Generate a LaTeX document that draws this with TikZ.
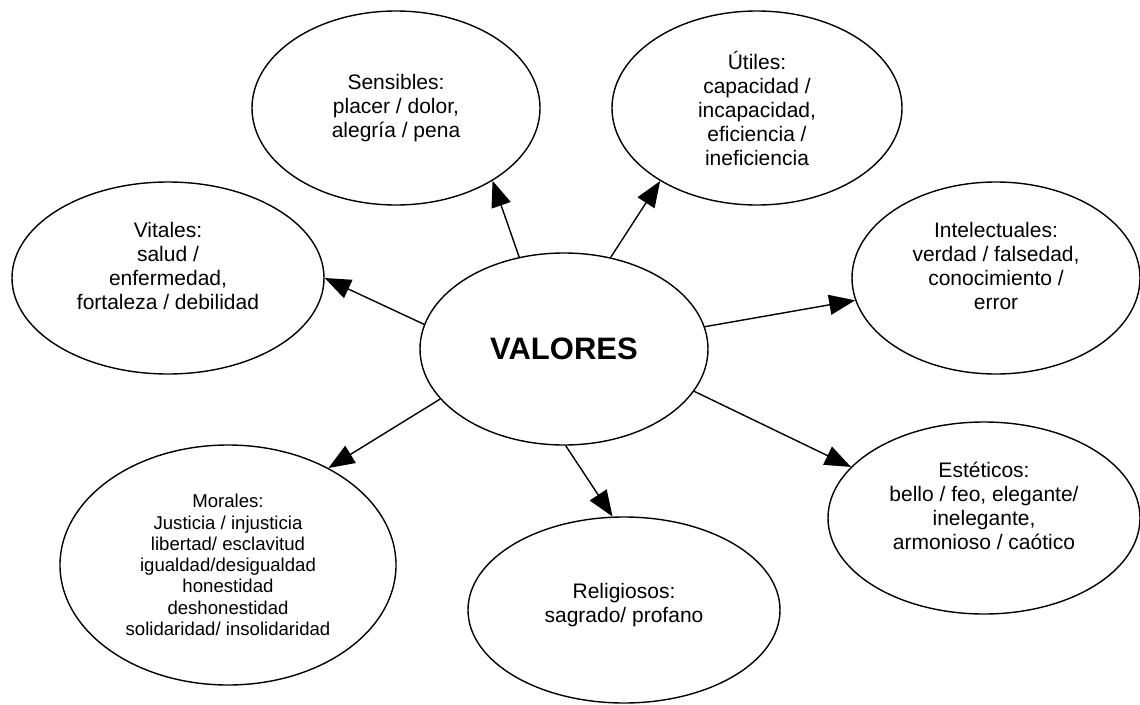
\documentclass[tikz,border=0pt]{standalone}
\usepackage{fontspec}
\setmainfont{Liberation Sans}
\usetikzlibrary{shapes.geometric,arrows.meta}

\tikzset{
  valor/.style={ellipse,draw,line width=1.4pt,inner sep=0pt,align=center,font=\fontsize{21}{24}\selectfont},
  flecha/.style={line width=1.4pt,-{Triangle[length=26pt,width=20pt]}}
}

\begin{document}
\begin{tikzpicture}[x=1pt,y=-1pt]
  	\useasboundingbox (0,0) rectangle (1140,704);
  	\node[valor,minimum width=288pt,minimum height=192pt,font=\fontsize{31}{36}\selectfont\bfseries] (valores) at (564,349) {VALORES};
  	\node[valor,minimum width=288pt,minimum height=194pt] (sensibles) at (396,108) {Sensibles:\\placer / dolor,\\alegría / pena};
  	\node[valor,minimum width=290pt,minimum height=194pt] (utiles) at (757,108) {Útiles:\\capacidad /\\incapacidad,\\eficiencia /\\ineficiencia};
  	\node[valor,minimum width=312pt,minimum height=192pt] (vitales) at (168,278) {Vitales:\\salud /\\enfermedad,\\fortaleza / debilidad\\\mbox{}};
  	\node[valor,minimum width=288pt,minimum height=192pt] (intelectuales) at (996,278) {Intelectuales:\\verdad / falsedad,\\conocimiento /\\error\\\mbox{}};
  	\node[valor,minimum width=312pt,minimum height=192pt] (esteticos) at (984,518) {Estéticos:\\bello / feo, elegante/\\inelegante,\\armonioso / caótico\\\mbox{}};
  	\node[valor,minimum width=312pt,minimum height=186pt] (religiosos) at (624,610) {Religiosos:\\sagrado/ profano\\[-10pt]\mbox{}};
  	\node[valor,minimum width=336pt,minimum height=240pt,font=\fontsize{18.6}{21.3}\selectfont] (morales) at (228,565) {Morales:\\Justicia / injusticia\\libertad/ esclavitud\\igualdad/desigualdad\\honestidad\\deshonestidad\\solidaridad/ insolidaridad};
  	\draw[flecha] (valores.116.6) -- (sensibles.-37.7);
  	\draw[flecha] (valores.63.4) -- (utiles.217.7);
  	\draw[flecha] (valores.170.5) -- (vitales.0);
  	\draw[flecha] (valores.9.5) -- (intelectuales.189.5);
  	\draw[flecha] (valores.-18.8) -- (esteticos.159.4);
  	\draw[flecha] (valores.-89.4) -- (religiosos.97.4);
  	\draw[flecha] (valores.202) -- (morales.44.7);
\end{tikzpicture}
\end{document}
